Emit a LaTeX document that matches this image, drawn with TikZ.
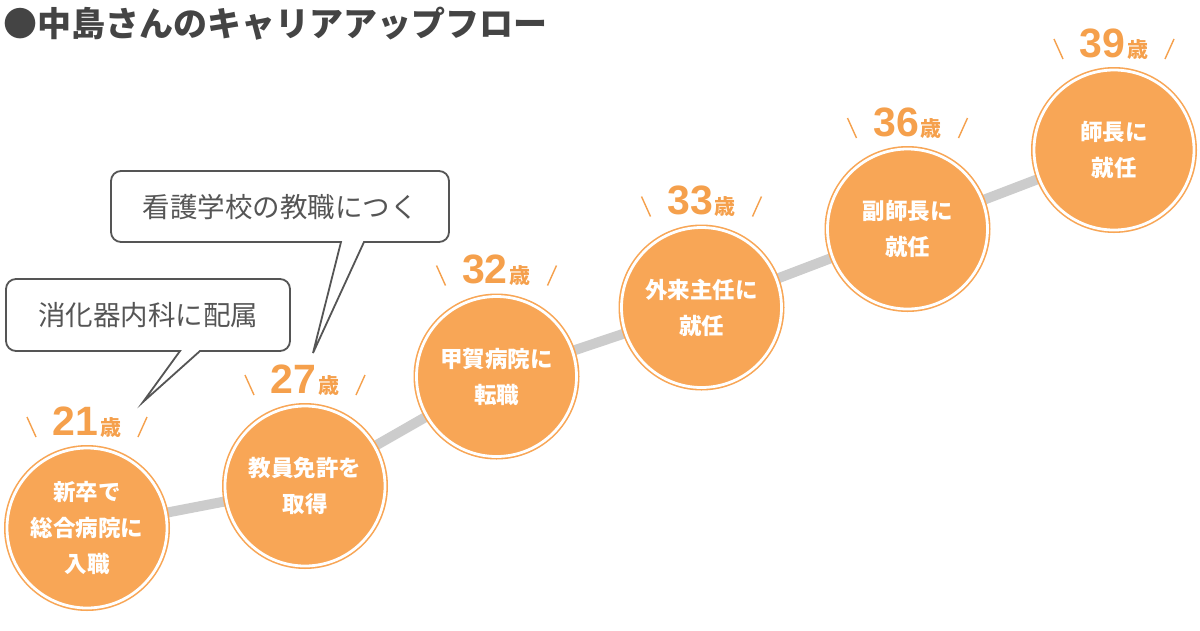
\documentclass[tikz,border=0pt]{standalone}
\usepackage{fontspec}
\setmainfont{Liberation Sans}
\newfontfamily\jp{Noto Sans CJK JP}
\newfontfamily\agedigits{Liberation Sans}
\usetikzlibrary{calc,backgrounds}
\definecolor{orng}{HTML}{F8A656}
\definecolor{orngd}{HTML}{F5A04C}
\definecolor{trk}{HTML}{CCCCCC}
\definecolor{ink}{HTML}{444444}
\definecolor{cl}{HTML}{555555}
\newcommand\agelabel[1]{{\agedigits\bfseries\fontsize{41}{41}\selectfont #1}\kern2pt{\jp\bfseries\fontsize{21}{21}\selectfont 歳}}
\newcommand\agemarks[2]{%
  \node[age] (#1age) at ($(#1.center)+(0,-93)$) {\agelabel{#2}};
  \draw[tick] ($(#1.center)+(-60,-111)$) -- ($(#1.center)+(-51,-91)$);
  \draw[tick] ($(#1.center)+(60,-111)$) -- ($(#1.center)+(51,-91)$);}
\begin{document}
\begin{tikzpicture}[x=1pt,y=-1pt,
  stage/.style={circle, fill=orng, draw=orng, line width=1.6pt, double=white, double distance=2.8pt,
    minimum size=160pt, inner sep=0pt, text=white, align=center,
    font=\jp\bfseries\fontsize{22.5}{36}\selectfont},
  age/.style={anchor=base, inner sep=0pt, text=orngd},
  tick/.style={draw=orngd, line width=1.4pt},
  track/.style={draw=trk, line width=10pt},
  balloon/.style={draw=cl, line width=1.8pt, fill=white, line join=miter},
  btext/.style={inner sep=0pt, text=cl, font=\jp\fontsize{27.5}{33}\selectfont}]
\useasboundingbox (0,0) rectangle (1200,630);

% title
\node[anchor=west, inner sep=0pt, text=ink, font=\jp\bfseries\fontsize{34}{34}\selectfont] (title) at (3,24) {●中島さんのキャリアアップフロー};

% stages
\node[stage] (c1) at (87,528) {新卒で\\総合病院に\\入職};
\node[stage] (c2) at (305,486) {教員免許を\\取得};
\node[stage] (c3) at (496.5,376.5) {甲賀病院に\\転職};
\node[stage] (c4) at (701.5,307.5) {外来主任に\\就任};
\node[stage] (c5) at (907.5,229) {副師長に\\就任};
\node[stage] (c6) at (1114,150) {師長に\\就任};

% track
\begin{scope}[on background layer]
  \fill[white] (0,0) rectangle (1200,630);
  \draw[track] (c1) -- (c2);
  \draw[track] (c2) -- (c3);
  \draw[track] (c3) -- (c4);
  \draw[track] (c4) -- (c5);
  \draw[track] (c5) -- (c6);
\end{scope}

% ages
\agemarks{c1}{21}
\agemarks{c2}{27}
\agemarks{c3}{32}
\agemarks{c4}{33}
\agemarks{c5}{36}
\agemarks{c6}{39}

% balloons
\draw[balloon] (200,351) -- (280,351) arc[start angle=90,end angle=0,radius=10]
  -- (290,289) arc[start angle=0,end angle=-90,radius=10]
  -- (16,279) arc[start angle=-90,end angle=-180,radius=10]
  -- (6,341) arc[start angle=180,end angle=90,radius=10]
  -- (180,351) -- (143,402) -- cycle;
\node[btext] (b1) at (148,315) {消化器内科に配属};

\draw[balloon] (364,242) -- (439,242) arc[start angle=90,end angle=0,radius=10]
  -- (449,181) arc[start angle=0,end angle=-90,radius=10]
  -- (121,171) arc[start angle=-90,end angle=-180,radius=10]
  -- (111,232) arc[start angle=180,end angle=90,radius=10]
  -- (341,242) -- (313,353) -- cycle;
\node[btext] (b2) at (280,207) {看護学校の教職につく};
\end{tikzpicture}
\end{document}
